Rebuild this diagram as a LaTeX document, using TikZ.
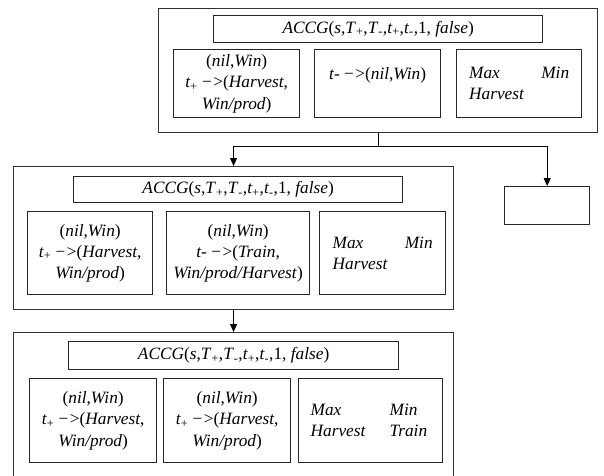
\documentclass[tikz,border=0pt]{standalone}
\usepackage{fontspec}
\setmainfont{Liberation Serif}
\usetikzlibrary{arrows.meta}
\newcommand{\sbp}{\textsubscript{+}}
\newcommand{\sbm}{\textsubscript{-}}
\newcommand{\myarr}{{\upshape −\kern1.5pt>}}
\newcommand{\mytitle}{\textit{ACCG}(\textit{s},\textit{T}\sbp,\textit{T}\sbm,\textit{t}\sbp,\textit{t}\sbm,1, \textit{false})}
\tikzset{
 panel/.style={draw=black!80, line width=1.1pt, anchor=north west, inner sep=0pt},
 tbox/.style={draw=black!85, line width=1.3pt, anchor=north west, inner sep=0pt, font=\fontsize{17.3}{21.3}\selectfont},
 ibox/.style={tbox, align=center},
 mbox/.style={tbox, align=left},
 conn/.style={draw=black, line width=0.9pt},
 arrowline/.style={conn, -{Triangle[length=8pt,width=7pt]}},
 sz/.style 2 args={minimum width=#1pt, minimum height=#2pt},
}
\begin{document}
\begin{tikzpicture}[x=1pt,y=-1pt]
\useasboundingbox (0,0) rectangle (604,475);
\clip (0,0) rectangle (604,475);
% panel 1
\node[panel, sz={439}{124}] (p1) at (158,8) {};
\node[tbox, sz={329}{27}] (t1) at (213,15) {\mytitle};
\node[ibox, sz={126}{68}] (a1) at (173,49) {(\textit{nil},\textit{Win})\\\textit{t}\sbp{} \myarr(\textit{Harvest},\\\textit{Win/prod})};
\node[ibox, sz={126}{68}] (b1) at (314,49) {\textit{t-} \myarr(\textit{nil},\textit{Win})\\\mbox{}};
\node[mbox, text width=100pt, sz={125}{68}] (c1) at (456,49) {\textit{Max}\hfill\textit{Min}\\\textit{Harvest}};
% small box
\node[tbox, sz={85}{38}] (sb) at (504,186) {};
% panel 2
\node[panel, sz={440}{143}] (p2) at (13,166) {};
\node[tbox, sz={329}{26}] (t2) at (73,176) {\mytitle};
\node[ibox, sz={125}{83}] (a2) at (27,211) {(\textit{nil},\textit{Win})\\\textit{t}\sbp{} \myarr(\textit{Harvest},\\\textit{Win/prod})};
\node[ibox, sz={143}{83}] (b2) at (166,211) {(\textit{nil},\textit{Win})\\\textit{t-} \myarr(\textit{Train},\\\textit{Win/prod/Harvest})};
\node[mbox, text width=100pt, sz={126}{83}] (c2) at (319,211) {\textit{Max}\hfill\textit{Min}\\\textit{Harvest}};
% panel 3
\node[panel, sz={440}{170}] (p3) at (13,332) {};
\node[tbox, sz={330}{28}] (t3) at (68,341) {\mytitle};
\node[ibox, sz={127}{84}] (a3) at (29,378) {(\textit{nil},\textit{Win})\\\textit{t}\sbp{} \myarr(\textit{Harvest},\\\textit{Win/prod})};
\node[ibox, sz={127}{84}] (b3) at (163,378) {(\textit{nil},\textit{Win})\\\textit{t}\sbp{} \myarr(\textit{Harvest},\\\textit{Win/prod})};
\node[mbox, text width=120pt, sz={144}{84}] (c3) at (298,378) {\makebox[79pt][l]{\textit{Max}}\textit{Min}\\\makebox[79pt][l]{\textit{Harvest}}\textit{Train}};
% connectors
\draw[conn] (p1.south) -- ++(0,13) coordinate (j);
\draw[arrowline] (j) -| (p2.north);
\draw[arrowline] (j) -| (sb.north);
\draw[arrowline] (p2.south) -- (p3.north);
\end{tikzpicture}
\end{document}
